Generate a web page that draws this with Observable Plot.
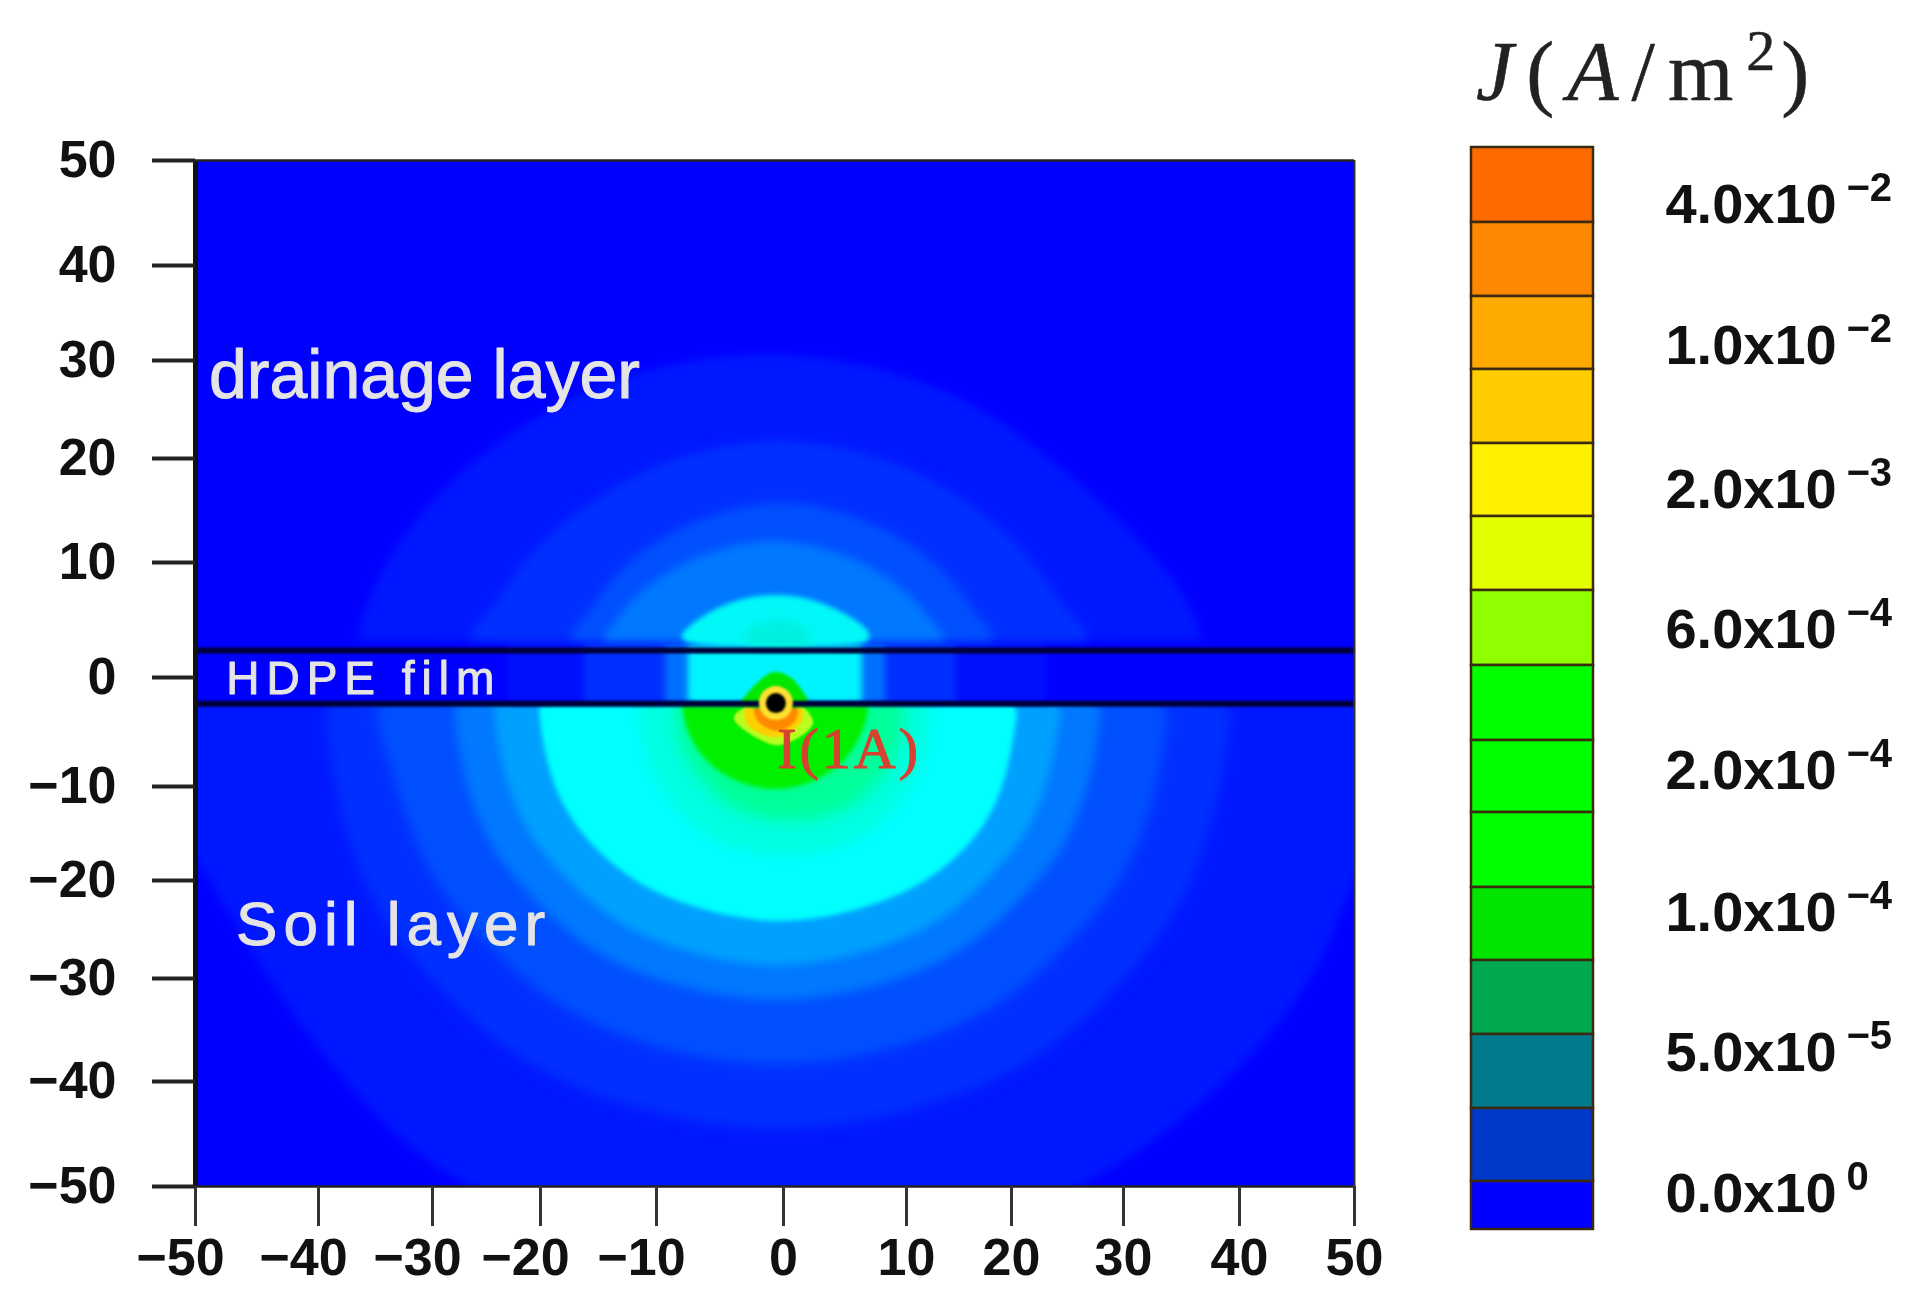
<!DOCTYPE html>
<html>
<head>
<meta charset="utf-8">
<script src="https://cdn.jsdelivr.net/npm/d3@7"></script>
<script src="https://cdn.jsdelivr.net/npm/@observablehq/plot@0.6"></script>
<style>
html,body{margin:0;padding:0;background:#fff;overflow:hidden}
#chart{position:relative;width:1917px;height:1304px;filter:blur(0.7px)}
#chart svg{position:absolute;left:0;top:0;background:transparent}
#title{position:absolute;left:1476px;top:17px;font-family:"Liberation Serif",serif;font-size:84px;line-height:110px;color:#222;white-space:nowrap;letter-spacing:13px;-webkit-text-stroke:0.5px #222}
#title i{font-style:italic}
#title sup{font-size:58px;line-height:0;vertical-align:30px;letter-spacing:6px}
.hdpe{letter-spacing:7px}
.soil{letter-spacing:6px}
.current{letter-spacing:3px}
</style>
</head>
<body>
<div id="chart"><div id="title"><i>J</i>(<i>A</i>/m<sup>2</sup>)</div></div>
<script>
// Axis ticks as printed (the printed axes are not evenly spaced)
const xTicks = [-50,-40,-30,-20,-10,0,10,20,30,40,50];
const yTicks = [-50,-40,-30,-20,-10,0,10,20,30,40,50];
const xNegative = [-50,-40,-30,-20,-10];
const xNonNegative = [0,10,20,30,40,50];

// Colour bar
const barColors = ["#ff6a00","#ff8800","#ffaa00","#ffcc00","#fff000","#e4ff00","#90ff00","#00ff00","#00ff00","#00ff00","#00e400","#00a850","#007a8c","#0038c8","#0000ff"];
const barMantissa = ["4.0x10","1.0x10","2.0x10","6.0x10","2.0x10","1.0x10","5.0x10","0.0x10"];
const barExponent = ["−2","−2","−3","−4","−4","−4","−5","0"];
const barLabelLevel = [1,2.92,4.88,6.76,8.67,10.59,12.49,14.63];

// Current density contours below the film: [x, y]
const soil0 = [[-54,-1],[-54,-1],[-54,-10],[-52.5,-14],[-50,-17.4],[-47,-24],[-43,-32.1],[-37.2,-40.9],[-28.3,-50.5],[-10,-56],[10,-56],[27,-50.5],[38.4,-40.9],[45.3,-32.1],[48,-26],[50,-19.5],[52,-15],[54,-10],[54,-1],[54,-1]];
const soil1 = [[-39.6,-1],[-39.6,-2.8],[-38.4,-12.4],[-35.3,-23.2],[-29.3,-31.3],[-21.7,-38.6],[-11.4,-43],[-0.5,-45.2],[10.8,-43],[21.9,-38.6],[29.2,-31.3],[35.1,-23.2],[38.2,-12.4],[39.4,-2.8],[39.4,-1]];
const soil2 = [[-35.2,-1],[-35.2,-2.8],[-33,-10.9],[-30.3,-20],[-24.8,-26.8],[-18.4,-33.2],[-9.7,-37.1],[-0.5,-38.9],[9,-37.1],[18.6,-33.2],[24.9,-26.8],[30.2,-20],[32.9,-10.9],[33.9,-2.8],[33.9,-1]];
const soil3 = [[-28.1,-1],[-28.1,-2.8],[-27.2,-9.3],[-24.8,-16.6],[-20.3,-22.4],[-15.3,-27.8],[-8.1,-31],[-0.5,-32.6],[7.4,-31],[15,-27.8],[20.5,-22.4],[24.9,-16.6],[27.2,-9.3],[28.1,-2.8],[28.1,-1]];
const soil4 = [[-24.4,-1],[-24.4,-2.8],[-23.6,-8.5],[-21.5,-14.8],[-17.7,-20],[-13.3,-24.7],[-7.2,-27.6],[-0.5,-29.2],[6.4,-27.6],[12.9,-24.7],[17.7,-20],[21.7,-14.8],[23.6,-8.5],[24.5,-2.8],[24.5,-1]];
const soil5 = [[-20.2,-1],[-20.2,-3],[-19.6,-7.6],[-18,-12.6],[-15.2,-16.9],[-11.1,-20.9],[-6.1,-23.2],[-0.2,-24.6],[6,-23.2],[12,-20.4],[17.1,-15.2],[19.5,-9.7],[20.6,-3],[20.6,-1]];
const soil6 = [[-11.5,-1],[-11.5,-2.8],[-11.2,-6.1],[-10.2,-9.4],[-8.5,-12.3],[-6.4,-15.2],[-3.3,-16.9],[0.2,-17.5],[3.7,-16.9],[6.9,-15.2],[9.1,-12.3],[11,-9.4],[12.1,-6.1],[12.5,-2.8],[12.5,-1]];
const soil7 = [[-8.5,-1],[-8.5,-2.8],[-8.3,-5.3],[-7.5,-7.9],[-6.1,-9.8],[-4.5,-12],[-2.2,-13.2],[0.6,-13.8],[3.4,-13.2],[5.8,-12],[7.5,-9.8],[8.9,-7.9],[9.7,-5.3],[9.9,-2.8],[9.9,-1]];
const soil8 = [[-8,-1],[-8,-2.8],[-7.6,-5.1],[-6.1,-7.9],[-3.6,-9.7],[-0.9,-10.5],[2,-9.9],[5,-7.9],[6.4,-5.1],[6.9,-3.3],[6.9,-1]];
const soil9 = [[-2.4,-2.4],[-3.9,-3.7],[-2,-5.6],[-0.2,-6.2],[2.4,-4.2],[1.2,-2.4]];
const soil10 = [[-2.8,-2.4],[-2.9,-4.2],[-0.6,-5.5],[1.5,-4],[1.2,-2.4]];
const soil11 = [[-2.2,-2.6],[-2.1,-3.9],[-0.5,-4.9],[1,-3.9],[1,-2.6]];

// Contours above the film
const drain1 = [[-36.6,3.2],[-36.6,3.2],[-36.4,4.5],[-35.3,7.8],[-31.9,14],[-25.7,20.5],[-18.8,25.6],[-10.9,29.3],[-2,31.2],[7.2,29.7],[15.9,26.2],[23.1,20.5],[29.9,14],[35.1,7.8],[36.5,4.5],[36.7,3.2],[36.7,3.2]];
const drain2 = [[-26.6,3.2],[-26.6,3.2],[-26.2,4.5],[-24.1,6.3],[-21.5,10.6],[-17,14.9],[-12.1,18.4],[-7,20.8],[-0.4,22.3],[6.4,20.8],[12,18.4],[17.3,14.9],[21.9,10.6],[24.4,6.3],[26.5,4.5],[26.9,3.2],[26.9,3.2]];
const drain3 = [[-17.5,3.2],[-17.5,3.2],[-17,4.4],[-15.9,5.5],[-14.2,8.3],[-11.3,11.1],[-8.2,13.4],[-4.6,15],[-0.2,16.1],[4.5,15],[8.1,13.4],[11.4,11.1],[14.7,8.3],[16.5,5.5],[18,4.4],[18.3,3.2],[18.3,3.2]];
const drain4 = [[-14.7,3.2],[-14.7,3.2],[-14.3,4],[-13.5,4.9],[-12.1,6.9],[-9.8,8.7],[-7.3,10.4],[-4.4,11.5],[-0.8,12.4],[2.9,11.5],[5.9,10.4],[8.5,8.7],[10.8,6.9],[12.3,4.9],[13.4,4],[13.7,3.2],[13.7,3.2]];
const drain5 = [[-8.3,3.5],[-7.6,4.3],[-6.1,5.6],[-3.6,6.9],[-0.6,7.3],[2.4,6.9],[5,5.6],[6.8,4.3],[7.2,3.4],[6.2,2.6],[-7.2,2.6]];
const drain6 = [[-3,2.3],[-3.5,4],[-0.5,5.5],[2.5,4],[2.5,2.3]];

// Film zone
const filmTop = 2.35;
const filmBottom = -2.4;
const filmLeft  = [-23,-16.2,-9.3,-7.5];
const filmRight = [23.1,14.7,8.3,6.4];
const filmColors = ["#0010ff","#0030ff","#0070ff","#00f4ff"];
const filmDrop = [[-3.3,-2.4],[-2.5,-1],[-1.2,0.3],[-0.6,0.5],[0.6,0],[1.4,-1],[2,-2.4]];
const sourceX = [-0.6];
const sourceY = [-2.35];

const band = (pts, color, px = 2, curve = "basis-closed") => Plot.line(pts, {
  x: d => d[0], y: d => d[1], fill: color, stroke: "none",
  curve, clip: "frame", imageFilter: `blur(${px}px)`
});
const label = (text, x, y, size, className, extra = {}) => Plot.text([text], {
  x, y, text: d => d, textAnchor: "start", lineAnchor: "bottom",
  fill: "#e4e4e4", stroke: "#e4e4e4", strokeWidth: 1, fontSize: size, fontWeight: "normal", className, ...extra
});

const main = Plot.plot({
  width: 1917, height: 1304,
  marginLeft: 195, marginRight: 563, marginTop: 160, marginBottom: 118,
  style: {fontFamily: "'Liberation Sans', Arial, sans-serif", fontWeight: "bold", fontSize: "52px", color: "#111", background: "transparent"},
  x: {type: "linear", domain: xTicks, range: [195,318,432,540,656,783,906,1011,1123,1239,1354]},
  y: {type: "linear", domain: yTicks, range: [1186,1081,978,880,786,677,562,458,360,265,160]},
  marks: [
    Plot.rect([0], {x1: -50, x2: 50, y1: -50, y2: 50, fill: "#0000ff"}),
    band(soil0, "#0018ff", 5), band(soil1, "#0030ff", 6), band(soil2, "#0050ff", 6), band(soil3, "#0078ff", 5),
    band(soil4, "#00a0ff", 4), band(soil5, "#00ffff", 2.5), band(soil6, "#00ffe0", 7), band(soil7, "#00ff98", 8),
    band(soil8, "#00f000", 2), band(soil9, "#b8ff20", 1, "catmull-rom-closed"), band(soil10, "#ffd000", 1, "catmull-rom-closed"), band(soil11, "#ff8a00", 1, "catmull-rom-closed"),
    Plot.rect([0], {x1: -50, x2: 50, y1: filmBottom, y2: 3.1, fill: "#0000ff"}),
    Plot.rect(filmColors, {x1: (d,i) => filmLeft[i], x2: (d,i) => filmRight[i], y1: filmBottom, y2: 3.1, fill: d => d, imageFilter: "blur(3px)"}),
    band(drain1, "#0018ff", 4), band(drain2, "#0030ff", 5), band(drain3, "#0050ff", 5), band(drain4, "#0078ff", 4),
    band(drain5, "#00f8f8", 2.5), band(drain6, "#00f0e0", 5),
    band(filmDrop, "#00e800", 1.5, "catmull-rom-closed"),
    Plot.ruleY([filmTop, filmBottom], {stroke: "#000038", strokeWidth: 6, imageFilter: "blur(1.2px)"}),
    Plot.dot(sourceX, {x: d => d, y: (d,i) => sourceY[i], r: 17, fill: "#ffe030", imageFilter: "blur(1px)"}),
    Plot.dot(sourceX, {x: d => d, y: (d,i) => sourceY[i], r: 10, fill: "#000", imageFilter: "blur(0.8px)"}),
    label("drainage layer", -48.9, 26.2, 68),
    label("HDPE film", -47.5, -1.5, 46, "hdpe"),
    label("Soil layer", -46.7, -26.6, 62, "soil"),
    label("I(1A)", -0.5, -8.3, 58, "current", {fill: "#d84030", stroke: "#d84030", strokeWidth: 1, fontFamily: "'Liberation Serif', serif"}),
    Plot.ruleX([-50], {stroke: "#111", strokeWidth: 5}),
    Plot.ruleX([50], {stroke: "#333", strokeWidth: 2}),
    Plot.ruleY([50, -50], {stroke: "#222", strokeWidth: 2.5}),
    Plot.axisX({ticks: xTicks, tickSize: 40, tickFormat: () => "", strokeWidth: 3, stroke: "#333", label: null}),
    Plot.axisX({ticks: xNegative, tickSize: 0, tickPadding: 52, dx: -15, label: null}),
    Plot.axisX({ticks: xNonNegative, tickSize: 0, tickPadding: 52, label: null}),
    Plot.axisY({ticks: yTicks, tickSize: 43, tickPadding: 36, strokeWidth: 4, stroke: "#222", label: null})
  ]
});

const bar = Plot.plot({
  width: 1917, height: 1304,
  marginLeft: 0, marginRight: 0, marginTop: 0, marginBottom: 0,
  style: {fontFamily: "'Liberation Sans', Arial, sans-serif", fontWeight: "bold", color: "#111", background: "transparent"},
  x: {type: "linear", domain: [0,1], range: [1471,1593], axis: null},
  y: {type: "linear", domain: d3.range(16), range: [147,222,296,369,443,516,590,665,740,812,887,960,1034,1108,1181,1229], axis: null},
  color: {type: "identity"},
  marks: [
    Plot.rect(barColors, {x1: 0, x2: 1, y1: (d,i) => i, y2: (d,i) => i + 1, fill: d => d, stroke: "#3a2a10", strokeWidth: 2.5}),
    Plot.text(barMantissa, {x: 1.59, y: (d,i) => barLabelLevel[i], text: d => d, textAnchor: "start", lineAnchor: "bottom", fontSize: 56}),
    Plot.text(barExponent, {x: 1.59, dx: 181, dy: -22, y: (d,i) => barLabelLevel[i], text: d => d, textAnchor: "start", lineAnchor: "bottom", fontSize: 40})
  ]
});

const chart = document.getElementById("chart");
chart.appendChild(main);
chart.appendChild(bar);
</script>
</body>
</html>
